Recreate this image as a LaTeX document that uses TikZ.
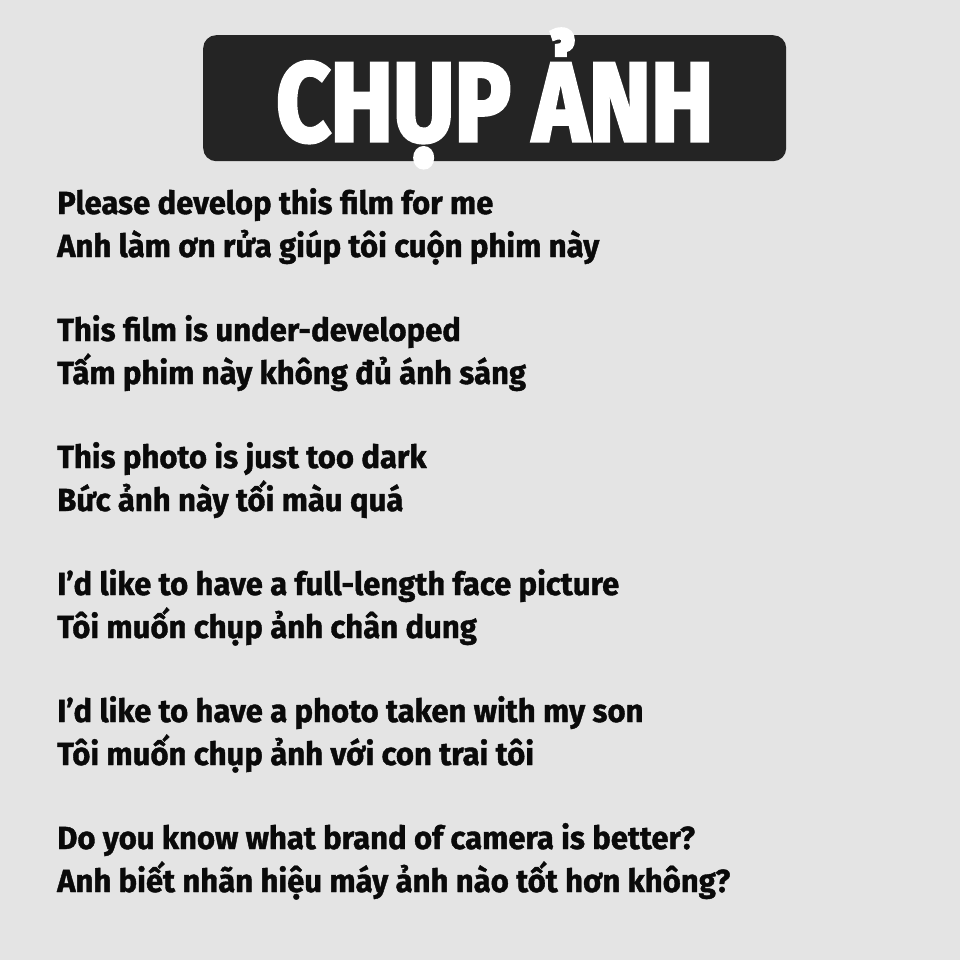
\documentclass[tikz,border=0pt]{standalone}
\usepackage{fontspec}
\newfontfamily\bodyfont{Fira Sans}[FakeStretch=0.97,FakeBold=1.2]
\newfontfamily\titlefont{Fira Sans}[FakeStretch=0.84,FakeBold=3]
\definecolor{bg}{HTML}{E4E4E4}
\definecolor{boxc}{HTML}{242424}
\definecolor{txt}{HTML}{0A0A0A}
\tikzset{
  line/.style={anchor=base west, inner sep=0pt, text=txt, font=\bodyfont\bfseries\fontsize{32}{32}\selectfont},
  titlebox/.style={fill=boxc, rounded corners=13pt},
  titletext/.style={anchor=base, inner sep=0pt, text=white, font=\titlefont\bfseries\fontsize{112}{112}\selectfont}
}
\begin{document}
\begin{tikzpicture}[x=1pt,y=-1pt]
\fill[bg] (0,0) rectangle (960,960);
\useasboundingbox (0,0) rectangle (960,960);
\node[titlebox, minimum width=583pt, minimum height=126pt, anchor=north west] (box) at (203,35) {};
\node[titletext] (title) at (495,141) {CHỤP ẢNH};
\node[line] (l1) at (57,214) {Please develop this film for me};
\node[line] (l2) at (57,257) {Anh làm ơn rửa giúp tôi cuộn phim này};
\node[line] (l3) at (57,341) {This film is under-developed};
\node[line] (l4) at (57,384) {Tấm phim này không đủ ánh sáng};
\node[line] (l5) at (57,468) {This photo is just too dark};
\node[line] (l6) at (57,511) {Bức ảnh này tối màu quá};
\node[line] (l7) at (57,595) {I’d like to have a full-length face picture};
\node[line] (l8) at (57,638) {Tôi muốn chụp ảnh chân dung};
\node[line] (l9) at (57,722) {I’d like to have a photo taken with my son};
\node[line] (l10) at (57,765) {Tôi muốn chụp ảnh với con trai tôi};
\node[line] (l11) at (57,849) {Do you know what brand of camera is better?};
\node[line] (l12) at (57,892) {Anh biết nhãn hiệu máy ảnh nào tốt hơn không?};
\end{tikzpicture}
\end{document}
